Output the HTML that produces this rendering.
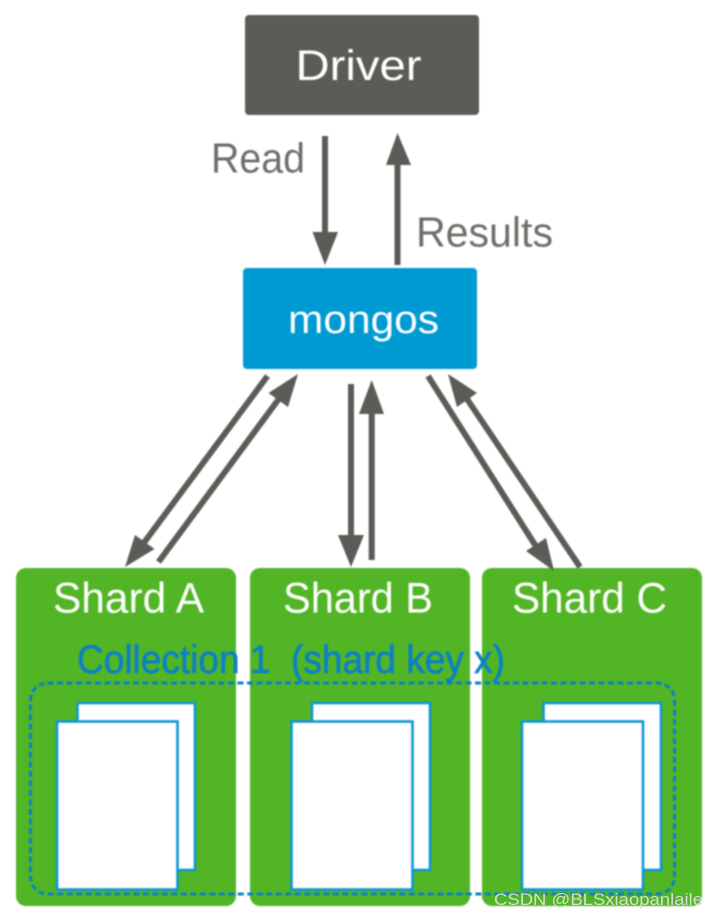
<!DOCTYPE html>
<html>
<head>
<meta charset="utf-8">
<style>
html,body{margin:0;padding:0;background:#fff;width:720px;height:920px;overflow:hidden}
svg{display:block}
text{font-family:"Liberation Sans",sans-serif}
</style>
</head>
<body>
<svg width="720" height="920" viewBox="0 0 720 920" xmlns="http://www.w3.org/2000/svg">
<g style="filter:blur(0.7px)">
  <!-- boxes -->
  <rect x="245" y="15" width="234" height="100" rx="4" fill="#5c5b56"/>
  <rect x="243" y="268" width="234" height="101" rx="4" fill="#009ad2"/>
  <rect x="16" y="568" width="220" height="338" rx="10" fill="#52b525"/>
  <rect x="250" y="568" width="220" height="338" rx="10" fill="#52b525"/>
  <rect x="482" y="568" width="220" height="338" rx="10" fill="#52b525"/>

  <!-- arrows -->
  <g stroke="#5c5b56" stroke-width="6" fill="none">
    <line x1="325" y1="136" x2="325" y2="234"/>
    <line x1="397.5" y1="265" x2="397.5" y2="164"/>
    <line x1="267.5" y1="376" x2="143" y2="544"/>
    <line x1="158.5" y1="562" x2="281" y2="396"/>
    <line x1="351" y1="384" x2="351" y2="536"/>
    <line x1="371.7" y1="560" x2="371.7" y2="412"/>
    <line x1="428" y1="376" x2="537" y2="548"/>
    <line x1="580" y1="567" x2="465" y2="396"/>
  </g>
  <g fill="#5c5b56">
    <polygon points="325,265 312.500,232 338,232"/>
    <polygon points="397.500,133 386,165 411,165"/>
    <polygon points="125,567 135,535 154.500,549"/>
    <polygon points="298,374 268.500,393 288,407"/>
    <polygon points="351,567 338,535 364,535"/>
    <polygon points="371.700,380 359,414 384,414"/>
    <polygon points="554,571 526,551 546,538"/>
    <polygon points="448,374 477,393 457,407"/>
  </g>

  <!-- documents -->
  <g fill="#fff" stroke="#0e96d6" stroke-width="2.6">
    <rect x="77.500" y="703" width="117.500" height="167"/>
    <rect x="57" y="721.500" width="120.500" height="168"/>
    <rect x="312" y="703" width="118" height="167"/>
    <rect x="291.500" y="721.500" width="121" height="168"/>
    <rect x="543.500" y="703" width="117.500" height="167"/>
    <rect x="522" y="721.500" width="121" height="168"/>
  </g>

  <!-- dashed collection -->
  <rect x="30.500" y="683" width="644" height="211" rx="17" fill="none" stroke="#0b80c6" stroke-width="3" stroke-dasharray="6 3.500"/>

  <!-- labels -->
  <text x="295.500" y="80" font-size="43" fill="#fff" textLength="126" lengthAdjust="spacingAndGlyphs">Driver</text>
  <text x="288" y="333" font-size="40" fill="#fff" textLength="151" lengthAdjust="spacingAndGlyphs">mongos</text>
  <text x="211" y="172.500" font-size="42" fill="#6f6e69" textLength="94" lengthAdjust="spacingAndGlyphs">Read</text>
  <text x="416" y="246.500" font-size="42" fill="#6f6e69" textLength="137" lengthAdjust="spacingAndGlyphs">Results</text>
  <text x="53" y="612.500" font-size="43" fill="#fff" textLength="151" lengthAdjust="spacingAndGlyphs">Shard A</text>
  <text x="283" y="612.500" font-size="43" fill="#fff" textLength="150" lengthAdjust="spacingAndGlyphs">Shard B</text>
  <text x="512" y="612.500" font-size="43" fill="#fff" textLength="155" lengthAdjust="spacingAndGlyphs">Shard C</text>
  <text x="77" y="673" font-size="40" fill="#0b80c6" stroke="#0b80c6" stroke-width="0.6" textLength="428" lengthAdjust="spacingAndGlyphs" xml:space="preserve">Collection 1  (shard key x)</text>
</g>
<svg x="0" y="0" width="702" height="920">
  <text x="494" y="905" font-size="17" fill="#d8dcd4" style="filter:blur(0.3px)" textLength="209" lengthAdjust="spacingAndGlyphs">CSDN @BLSxiaopanlaile</text>
</svg>
</svg>
</body>
</html>
